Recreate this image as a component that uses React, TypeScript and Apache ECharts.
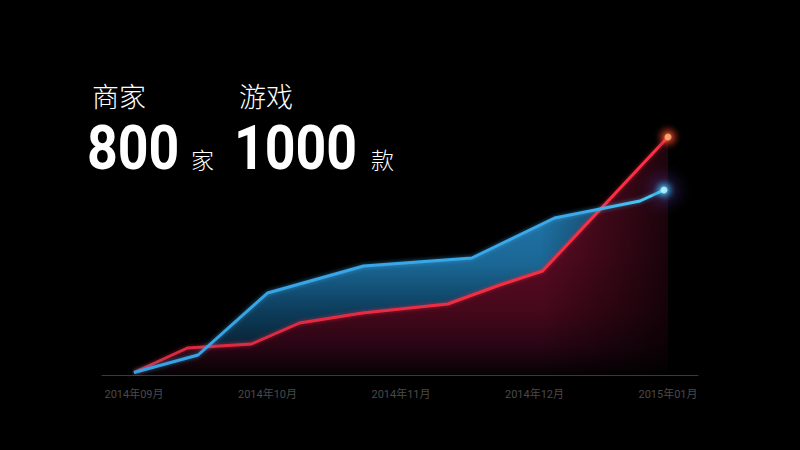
import React, { useEffect, useRef } from "react";
import * as echarts from "echarts";

// x axis tick labels (one per month, x value = month index)
const monthLabels = ["2014年09月", "2014年10月", "2014年11月", "2014年12月", "2015年01月"];

// red series (商家)
const redX = [0, 0.4, 0.88, 1.24, 1.71, 2.35, 2.74, 3.06, 4.0];
const redY = [1, 10.8, 12.4, 20.8, 24.8, 28.4, 36, 41.6, 95.2];

// blue series (游戏)
const blueX = [0, 0.48, 1.0, 1.72, 2.53, 3.15, 3.49, 3.79, 3.97];
const blueY = [1, 8, 32.8, 43.6, 46.8, 62.8, 66.4, 69.6, 74];

const yMax = 100;

const headline = [
  { label: "商家", value: "800", unit: "家" },
  { label: "游戏", value: "1000", unit: "款" },
];

const pairs = (xs: number[], ys: number[]) => xs.map((x, i) => [x, ys[i]]);

export default function App() {
  const ref = useRef<HTMLDivElement>(null);
  useEffect(() => {
    if (!ref.current) return;
    const chart = echarts.init(ref.current, null, { renderer: "svg" });
    const red = pairs(redX, redY);
    const blue = pairs(blueX, blueY);
    const G = echarts.graphic.LinearGradient;
    const R = echarts.graphic.RadialGradient;

    const blueArea = new G(0, 190, 0, 375, [
      { offset: 0, color: "#2579b0" },
      { offset: 0.4, color: "#1a6795" },
      { offset: 0.65, color: "#0d3d5c" },
      { offset: 1, color: "#050f18" },
    ], true);
    const redArea = new G(0, 137, 0, 375, [
      { offset: 0, color: "#6e0f2c" },
      { offset: 0.5, color: "#5a0b24" },
      { offset: 0.73, color: "#46081b" },
      { offset: 0.88, color: "#280514" },
      { offset: 1, color: "#060203" },
    ], true);
    const fadeRight = new G(540, 0, 690, 0, [
      { offset: 0, color: "rgba(0,0,0,0)" },
      { offset: 0.6, color: "rgba(0,0,0,0.5)" },
      { offset: 1, color: "rgba(0,0,0,0.85)" },
    ], true);
    const glow = (inner: string, mid: string) =>
      new R(0.5, 0.5, 0.5, [
        { offset: 0, color: inner },
        { offset: 0.4, color: mid },
        { offset: 1, color: "rgba(0,0,0,0)" },
      ]);

    const xs = monthLabels.map((_, i) => i);
    const redEnd = red[red.length - 1];
    const blueEnd = blue[blue.length - 1];

    chart.setOption({
      animation: false,
      backgroundColor: "#000",
      grid: [
        { left: 134, right: 132, top: 125, bottom: 75, outerBoundsMode: "none" },
        { left: 102, right: 102, top: 125, bottom: 75, outerBoundsMode: "none" },
      ],
      xAxis: [
        {
          type: "value",
          gridIndex: 0,
          min: 0,
          max: monthLabels.length - 1,
          interval: 1,
          axisLine: { show: false },
          axisTick: { show: false },
          splitLine: { show: false },
          axisLabel: {
            show: true,
            showMinLabel: true,
            showMaxLabel: true,
            margin: 14,
            color: "#4a4a4a",
            fontSize: 11,
            fontFamily: "Roboto, 'Noto Sans CJK SC', sans-serif",
            formatter: (v: number) => monthLabels[Math.round(v)] ?? "",
          },
        },
        {
          type: "value",
          gridIndex: 1,
          min: 0,
          max: 1,
          axisLine: { show: true, lineStyle: { color: "#3a3a3a", width: 1 } },
          axisTick: { show: false },
          axisLabel: { show: false },
          splitLine: { show: false },
        },
      ],
      yAxis: [
        { type: "value", gridIndex: 0, min: 0, max: yMax, show: false },
        { type: "value", gridIndex: 1, min: 0, max: 1, show: false },
      ],
      series: [
        {
          type: "line",
          name: "游戏-area",
          data: blue,
          z: 1,
          symbol: "none",
          lineStyle: { width: 0 },
          areaStyle: { color: blueArea, opacity: 1 },
        },
        {
          type: "line",
          name: "商家-area",
          data: red,
          z: 1,
          symbol: "none",
          lineStyle: { width: 0 },
          areaStyle: { color: redArea, opacity: 1 },
        },
        {
          type: "line",
          name: "fade",
          data: [[xs[0], yMax], [xs[xs.length - 1], yMax]],
          z: 2,
          symbol: "none",
          lineStyle: { width: 0 },
          areaStyle: { color: fadeRight, opacity: 1 },
          silent: true,
        },
        {
          type: "scatter",
          z: 2,
          symbolSize: 60,
          data: [blueEnd],
          itemStyle: { color: glow("rgba(110,90,220,0.45)", "rgba(90,60,180,0.25)") },
          silent: true,
        },
        {
          type: "line",
          name: "商家",
          data: red,
          z: 3,
          symbol: "none",
          lineStyle: {
            width: 3,
            color: new G(0, 0, 1, 0, [
              { offset: 0, color: "#d62a42" },
              { offset: 1, color: "#ff2f44" },
            ]),
            shadowBlur: 4,
            shadowColor: "rgba(230,40,60,0.6)",
          },
        },
        {
          type: "line",
          name: "游戏",
          data: blue,
          z: 4,
          symbol: "none",
          lineStyle: {
            width: 3,
            color: new G(0, 0, 1, 0, [
              { offset: 0, color: "#36a2e4" },
              { offset: 0.85, color: "#3aaaea" },
              { offset: 1, color: "#4cd0f4" },
            ]),
            shadowBlur: 4,
            shadowColor: "rgba(60,170,240,0.6)",
          },
        },
        {
          type: "scatter",
          z: 5,
          symbolSize: 30,
          data: [redEnd],
          itemStyle: { color: glow("rgba(255,150,80,1)", "rgba(255,70,40,0.55)") },
          silent: true,
        },
        {
          type: "scatter",
          z: 5,
          symbolSize: 28,
          data: [blueEnd],
          itemStyle: { color: glow("rgba(140,240,255,1)", "rgba(50,200,255,0.5)") },
          silent: true,
        },
        {
          type: "scatter",
          z: 6,
          symbolSize: 7,
          data: [redEnd],
          itemStyle: { color: "#ffb27a" },
        },
        {
          type: "scatter",
          z: 6,
          symbolSize: 7,
          data: [blueEnd],
          itemStyle: { color: "#b8f6ff" },
        },
      ],
      graphic: [
        {
          type: "text",
          x: 92,
          y: 95,
          style: {
            text: headline[0].label,
            fill: "#fff",
            font: "300 27px 'Noto Sans CJK SC'",
            textAlign: "left",
            textVerticalAlign: "middle",
          },
        },
        {
          type: "text",
          x: 239,
          y: 95,
          style: {
            text: headline[1].label,
            fill: "#fff",
            font: "300 27px 'Noto Sans CJK SC'",
            textAlign: "left",
            textVerticalAlign: "middle",
          },
        },
        {
          type: "text",
          x: 87,
          y: 148,
          scaleX: 0.88,
          style: {
            text: headline[0].value,
            fill: "#fff",
            font: "bold 61px Roboto",
            textAlign: "left",
            textVerticalAlign: "middle",
          },
        },
        {
          type: "text",
          x: 234,
          y: 148,
          scaleX: 0.88,
          style: {
            text: headline[1].value,
            fill: "#fff",
            font: "bold 61px Roboto",
            textAlign: "left",
            textVerticalAlign: "middle",
          },
        },
        {
          type: "text",
          x: 191,
          y: 159,
          style: {
            text: headline[0].unit,
            fill: "#fff",
            font: "300 23px 'Noto Sans CJK SC'",
            textAlign: "left",
            textVerticalAlign: "middle",
          },
        },
        {
          type: "text",
          x: 371,
          y: 159,
          style: {
            text: headline[1].unit,
            fill: "#fff",
            font: "300 23px 'Noto Sans CJK SC'",
            textAlign: "left",
            textVerticalAlign: "middle",
          },
        },
      ],
    });
    return () => chart.dispose();
  }, []);
  return (
    <div
      ref={ref}
      style={{ position: "fixed", left: 0, top: 0, width: 800, height: 450, background: "#000" }}
    />
  );
}
